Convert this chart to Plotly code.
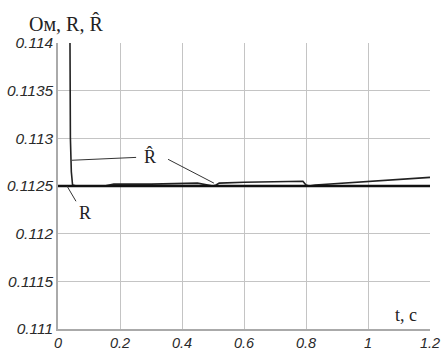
import plotly.graph_objects as go

# Data
t_R = [0.0, 1.2]
R = [0.1125, 0.1125]

t_hat = [0.036, 0.038, 0.040, 0.043, 0.047, 0.060, 0.150, 0.180, 0.300, 0.450,
         0.500, 0.510, 0.520, 0.600, 0.790, 0.800, 0.810, 0.830, 1.000, 1.200]
R_hat = [0.1160, 0.1140, 0.1130, 0.11265, 0.11251, 0.11250, 0.11250, 0.11252, 0.11252, 0.11253,
         0.11250, 0.11251, 0.11253, 0.11254, 0.11255, 0.11251, 0.11250, 0.11251, 0.11255, 0.11259]

x_ticks = [0, 0.2, 0.4, 0.6, 0.8, 1, 1.2]
x_ticktext = ["0", "0.2", "0.4", "0.6", "0.8", "1", "1.2"]
y_ticks = [0.111, 0.1115, 0.112, 0.1125, 0.113, 0.1135, 0.114]
y_ticktext = ["0.111", "0.1115", "0.112", "0.1125", "0.113", "0.1135", "0.114"]

fig = go.Figure()
fig.add_trace(go.Scatter(x=t_hat, y=R_hat, mode="lines",
                         line=dict(color="#222", width=1.6), showlegend=False))
fig.add_trace(go.Scatter(x=t_R, y=R, mode="lines",
                         line=dict(color="#111", width=2.6), showlegend=False))

xtickfont = dict(family="Liberation Sans, Arial", size=14.5, color="#2a2a2a", style="italic")
ytickfont = dict(family="Liberation Sans, Arial", size=15.5, color="#2a2a2a", style="italic")
fig.update_xaxes(range=[0, 1.2], tickvals=x_ticks, ticktext=x_ticktext,
                 showgrid=True, gridcolor="#c4c4c4", gridwidth=1,
                 showline=True, linecolor="#aaa", linewidth=1.5, mirror=False,
                 zeroline=False, ticks="", tickfont=xtickfont, automargin=False,
                 ticklabelstandoff=0)
fig.update_yaxes(range=[0.111, 0.114], tickvals=y_ticks, ticktext=y_ticktext,
                 showgrid=True, gridcolor="#c4c4c4", gridwidth=1,
                 showline=True, linecolor="#aaa", linewidth=1.5,
                 zeroline=False, ticks="", tickfont=ytickfont, automargin=False,
                 ticklabelstandoff=0)

serif = dict(family="Liberation Serif, Times New Roman", color="#222")
annotations = [
    dict(x=0.297, y=0.11281, xref="x", yref="y", text="R\u0302", showarrow=False,
         font=dict(size=18, **serif)),
    dict(x=0.087, y=0.11222, xref="x", yref="y", text="R", showarrow=False,
         font=dict(size=18, **serif)),
    dict(x=1.123, y=0.11115, xref="x", yref="y", text="t, c", showarrow=False,
         font=dict(size=18, **serif)),
    dict(x=(66 - 58) / 372, y=(329 - 24) / 286, xref="paper", yref="paper",
         xanchor="center", yanchor="middle",
         text="Ом, R, R\u0302", showarrow=False, font=dict(size=20, **serif)),
]
shapes = [
    dict(type="line", xref="x", yref="y", x0=0.045, y0=0.11277, x1=0.252, y1=0.1128,
         line=dict(color="#333", width=1)),
    dict(type="line", xref="x", yref="y", x0=0.355, y0=0.11278, x1=0.503, y1=0.11253,
         line=dict(color="#333", width=1)),
    dict(type="line", xref="x", yref="y", x0=0.029, y0=0.11250, x1=0.058, y1=0.11234,
         line=dict(color="#333", width=1)),
]

fig.update_layout(width=442, height=350, margin=dict(l=58, r=12, t=43, b=21),
                  plot_bgcolor="white", paper_bgcolor="white",
                  annotations=annotations, shapes=shapes)

fig.write_html("out.html")
